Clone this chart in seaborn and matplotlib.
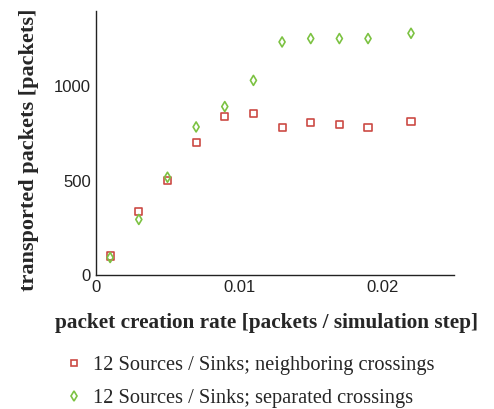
import numpy as np
import pandas as pd
import seaborn as sns
import matplotlib.pyplot as plt

# values
rate = [0.001, 0.003, 0.005, 0.007, 0.009, 0.011, 0.013, 0.015, 0.017, 0.019, 0.022]
neighboring = [100, 335, 500, 700, 840, 858, 783, 810, 800, 783, 815]
separated = [92, 294, 518, 785, 893, 1032, 1236, 1254, 1254, 1254, 1282]
series_names = ['12 Sources / Sinks; neighboring crossings',
                '12 Sources / Sinks; separated crossings']

sns.set_style('white')
plt.rcParams['font.family'] = ['Liberation Sans', 'DejaVu Sans']

fig = plt.figure(figsize=(4.94, 4.09), dpi=100)
ax = fig.add_axes([0.194, 0.328, 0.725, 0.645])

colors = ['#cc4a44', '#7cc242']
markers = ['s', 'd']
sizes = [26, 26]

for vals, c, m, sz in zip([neighboring, separated], colors, markers, sizes):
    sns.scatterplot(x=rate, y=vals, marker=m, s=sz, ax=ax, legend=False)
    coll = ax.collections[-1]
    coll.set_facecolor('none')
    coll.set_edgecolor(c)
    coll.set_linewidth(1.2)

ax.set_xlim(0, 0.025)
ax.set_ylim(0, 1400)
ax.set_xticks([0, 0.01, 0.02])
ax.set_xticklabels(['0', '0.01', '0.02'])
ax.set_yticks([0, 500, 1000])
ax.tick_params(direction='in', length=3, width=0.8, labelsize=12, colors='#222222')
sns.despine(ax=ax)
for sp in ['left', 'bottom']:
    ax.spines[sp].set_color('#222222')
    ax.spines[sp].set_linewidth(1.0)

ax.set_xlabel('packet creation rate [packets / simulation step]',
              family='Liberation Serif', fontweight='bold', fontsize=15.3)
ax.set_ylabel('transported packets [packets]',
              family='Liberation Serif', fontweight='bold', fontsize=16)
ax.xaxis.set_label_coords(0.478, -0.145)
ax.yaxis.set_label_coords(-0.158, 0.473)

handles = [plt.Line2D([], [], linestyle='none', marker=m, markersize=5,
                      markerfacecolor='none', markeredgecolor=c,
                      markeredgewidth=1.2) for c, m in zip(colors, markers)]
fig.legend(handles, series_names, loc='upper left', bbox_to_anchor=(0.108, 0.155),
           frameon=False, prop={'family': 'Liberation Serif', 'size': 14.7},
           handlelength=1.0, handletextpad=0.45, labelspacing=0.65, borderpad=0)

fig.savefig('out.png', dpi=100)
